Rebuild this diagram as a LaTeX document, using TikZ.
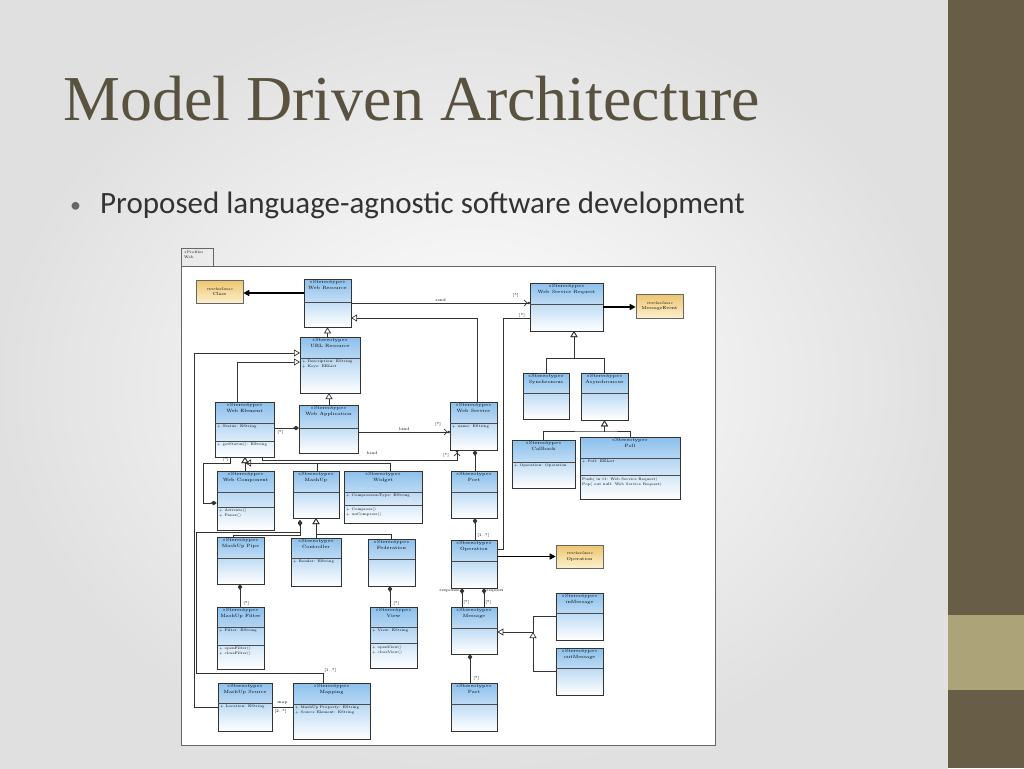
\documentclass[tikz,border=0pt]{standalone}
\usepackage{fontspec}
\newfontfamily\slidefont{Carlito}
\newfontfamily\headfont{Liberation Serif}
\usetikzlibrary{arrows.meta,fit,positioning,calc}
\definecolor{boxtop}{RGB}{140,192,236}
\definecolor{metatop}{RGB}{238,196,110}
\definecolor{metabot}{RGB}{252,240,205}
\definecolor{strip}{RGB}{104,93,70}
\definecolor{stripband}{RGB}{172,163,120}
\definecolor{headcol}{RGB}{88,82,62}
\tikzset{
    stbox/.style={rectangle,draw=black!80,line width=.6pt,inner sep=0pt,top color=boxtop,bottom color=white},
    mcbox/.style={rectangle,draw=black!60,line width=.6pt,inner sep=0pt,top color=metatop,bottom color=metabot},
    sttitle/.style={inner sep=0pt,align=center,font=\fontsize{4.6}{5.6}\selectfont},
    attr/.style={inner sep=0pt,anchor=north west,align=left,font=\fontsize{3.6}{4.6}\selectfont},
    lab/.style={inner sep=0pt,font=\fontsize{4}{5}\selectfont},
    sepline/.style={draw=black!70,line width=.5pt},
    conn/.style={draw=black!80,line width=.7pt},
    gen/.style={conn,-{Triangle[open,length=6pt,width=7pt]}},
    meta/.style={draw=black,line width=1.5pt,-{Triangle[length=6pt,width=6pt]}},
    comp/.style={conn,{Diamond[length=6pt,width=4.5pt]}-},
    navi/.style={conn,-{Straight Barb[length=3pt,width=6pt] Circle[length=2.5pt]}}
}
% stereotype class: name, x1, y1, x2, y2, header bottom, title
\newcommand\stclass[7]{%
  \node[stbox,fit={(#2,#3)(#4,#5)}] (#1) {};
  \node[sttitle,below=1.5pt of #1.north] (#1-t) {«Stereotype»\\#7};
  \draw[sepline] (#2,#6) -- (#4,#6);
}
% metaclass: name, x1, y1, x2, y2, title
\newcommand\mclass[6]{%
  \node[mcbox,fit={(#2,#3)(#4,#5)}] (#1) {};
  \node[sttitle,font=\fontsize{4.3}{5.6}\selectfont] at (#1.center) (#1-t) {\textit{«metaclass»}\\#6};
}
\begin{document}
\begin{tikzpicture}[x=1pt,y=-1pt]
\useasboundingbox (0,0) rectangle (1024,768);
% slide background
\shade[inner color=white,outer color=black!12] (0,0) rectangle (948,768);
\fill[strip] (948,0) rectangle (1024,768);
\fill[stripband] (948,615) rectangle (1024,690);
\node[anchor=base west,inner sep=0pt,text=headcol,font=\headfont\fontsize{64}{66}\selectfont] (title) at (63,120) {Model Driven Architecture};
\node[anchor=base west,inner sep=0pt,text=black!80,font=\slidefont\fontsize{31}{33}\selectfont] (bullet) at (100,213) {Proposed language-agnostic software development};
\node[anchor=base west,inner sep=0pt,text=black!60,font=\slidefont\fontsize{22}{24}\selectfont] at (70,212) {•};
% profile frame
\fill[white] (181,266) rectangle (715,745);
\draw[black!60,line width=.7pt] (181,248) rectangle (213,266);
\draw[black!60,line width=.7pt] (181,266) rectangle (715,745);
\node[attr,font=\fontsize{3.6}{4.4}\selectfont] (prof) at (184,251) {«Profile»\\Web};
% classes
\mclass{Cls}{196}{280}{243}{303}{Class}
\mclass{MsgEvt}{636}{294}{683}{318}{MessageEvent}
\mclass{OpMeta}{556}{545}{603}{568}{Operation}
\stclass{WR}{304}{279}{351}{327}{302}{Web Resource}
\stclass{WSR}{530}{283}{603}{331}{304}{Web Service Request}
\stclass{URL}{300}{337}{360}{393}{358}{URL Resource}
\node[attr] (URL-a) at (302,360) {+ Description: EString\\+ Keys: EEList};
\stclass{Sync}{523}{373}{569}{419}{393}{Synchronous}
\stclass{Async}{581}{373}{628}{420}{393}{Asynchronous}
\stclass{WE}{215}{402}{274}{457}{423}{Web Element}
\draw[sepline] (215,441) -- (274,441);
\node[attr] (WE-a) at (217,425) {+ Status: EString};
\node[attr] (WE-o) at (217,443) {+ getStatus(): EString};
\stclass{WA}{299}{405}{358}{453}{428}{Web Application}
\stclass{WS}{450}{402}{497}{450}{423}{Web Service}
\node[attr] (WS-a) at (452,425) {+ name: EString};
\stclass{CB}{512}{440}{575}{488}{462}{Callback}
\node[attr] (CB-a) at (514,464) {+ Operation: Operation};
\stclass{Poll}{580}{437}{680}{499}{458}{Poll}
\draw[sepline] (580,475) -- (680,475);
\node[attr] (Poll-a) at (582,460) {+ Poll: EEList};
\node[attr] (Poll-o) at (582,478) {Push( in t1: Web Service Request)\\Pop( out null: Web Service Request)};
\stclass{WC}{217}{471}{274}{530}{492}{Web Component}
\draw[sepline] (217,507) -- (274,507);
\node[attr] (WC-o) at (219,509) {+ Activate()\\+ Pause()};
\stclass{MU}{293}{471}{339}{518}{492}{MashUp}
\stclass{Wid}{344}{471}{422}{523}{492}{Widget}
\draw[sepline] (344,505) -- (422,505);
\node[attr] (Wid-a) at (346,494) {+ CompressionType: EString};
\node[attr] (Wid-o) at (346,508) {+ Compress()\\+ unCompress()};
\stclass{Port}{451}{471}{497}{518}{492}{Port}
\stclass{Pipe}{217}{537}{264}{584}{558}{MashUp Pipe}
\stclass{Ctrl}{291}{538}{341}{586}{558}{Controller}
\node[attr] (Ctrl-a) at (293,560) {+ Render: EString};
\stclass{Fed}{368}{539}{415}{586}{559}{Federation}
\stclass{Op}{451}{540}{497}{588}{561}{Operation}
\stclass{Filt}{217}{607}{264}{669}{627}{MashUp Filter}
\draw[sepline] (217,645) -- (264,645);
\node[attr] (Filt-a) at (219,629) {+ Filter: EString};
\node[attr] (Filt-o) at (219,647) {+ openFilter()\\+ closeFilter()};
\stclass{View}{370}{607}{417}{668}{627}{View}
\draw[sepline] (370,643) -- (417,643);
\node[attr] (View-a) at (372,629) {+ View: EString};
\node[attr] (View-o) at (372,646) {+ openView()\\+ closeView()};
\stclass{Msg}{451}{607}{497}{654}{628}{Message}
\stclass{InM}{556}{593}{603}{640}{613}{inMessage}
\stclass{OutM}{556}{648}{603}{695}{668}{outMessage}
\stclass{Src}{218}{683}{272}{731}{703}{MashUp Source}
\node[attr] (Src-a) at (220,705) {+ Location: EString};
\stclass{Map}{293}{683}{370}{739}{704}{Mapping}
\node[attr] (Map-a) at (295,706) {+ MashUp Property: EString\\+ Source Element: EString};
\stclass{Part}{451}{683}{497}{731}{704}{Part}
% metaclass extensions
\draw[meta] (WR.west |- 0,293) -- (Cls.east |- 0,293);
\draw[meta] (WSR.east) -- (WSR.east -| MsgEvt.west);
\draw[meta] (Op.east |- OpMeta.west) -- (OpMeta.west);
% generalizations
\draw[gen] (URL.north -| WR.south) -- (WR.south);
\draw[gen] (WS.north -| 477,0) |- (351,318);
\draw[gen] (Sync.north) |- (574,358) -| (574,331);
\draw[gen] (Async.north) |- (574,358) -| (574,331);
\draw[gen] (CB.north) |- (605,431) -| (Async.south);
\draw[gen] (Poll.north) |- (605,431) -| (Async.south);
\draw[gen] (WA.north -| 329,0) -- (329,393);
\draw[gen] (237,402) |- (300,362);
\draw[gen] (Src.west) -| (194,353) -- (300,353);
\draw[gen] (WC.north -| 245,0) -- (245,457);
\draw[gen] (MU.north -| 317,0) |- (245,463) -- (245,457);
\draw[gen] (Wid.north -| 390,0) |- (245,463);
\draw[gen] (Ctrl.north -| 316,0) -- (316,518);
\draw[gen] (Fed.north) |- (316,534) -- (316,518);
\draw[gen] (InM.west) -| (533,632) -- (Msg.east |- 0,632);
\draw[gen] (OutM.west) -| (533,632);
% compositions
\draw[comp] (299,428) -- (274,428) node[lab,pos=.75,below=2pt] {[*]};
\draw[comp] (WC.west |- 0,503) -| (203,463) -| (230,457) node[lab,pos=.8,left=1pt] {[*]};
\draw[comp] (475,450) -- (475,471);
\draw[comp] (475,518) -- (475,540) node[lab,pos=.8,right=2pt] {[1..*]};
\draw[comp] (240,584) -- (240,607) node[lab,pos=.85,right=3pt] {[*]};
\draw[comp] (390,586) -- (390,607) node[lab,pos=.85,right=3pt] {[*]};
\draw[comp] (300,520) |- (233,535) -- (233,537);
\draw[comp] (300,520) |- (196,532) |- (323,673) -- (323,683) node[lab,pos=0,above right=0pt and 1pt] {[1..*]};
\draw[comp] (462,588) -- (462,607) node[lab,pos=0,left=2pt,yshift=-3pt] {response} node[lab,pos=.75,right=1pt] {[*]};
\draw[comp] (484,588) -- (484,607) node[lab,pos=0,right=2pt,yshift=-3pt] {request} node[lab,pos=.75,right=1pt] {[*]};
\draw[comp] (470,654) -- (470,683) node[lab,pos=.85,right=3pt] {[*]};
% navigable associations
\draw[navi] (WR.east |- 0,303) -- (530,303) node[lab,pos=.5,above=1pt] {send} node[lab,pos=.92,above=5pt] {[*]};
\draw[navi] (WA.east |- 0,432) -- (450,432) node[lab,pos=.5,above=1pt] {bind} node[lab,pos=.87,above=5pt] {[*]};
\draw[navi] (262,457) |- (457,460) -- (457,450);
\node[lab] (bind2) at (372,453) {bind};
\node[lab] (bind2m) at (446,455) {[*]};
\draw[conn] (Op.east |- 0,549) -| (503,318) -- (530,318) node[lab,pos=.7,above=.5pt] {[*]};
\draw[conn] (Src.east |- 0,707) -- (Map.west |- 0,707) node[lab,pos=.5,above=2pt] {map} node[lab,pos=.4,below=2pt] {[2..*]};
\end{tikzpicture}
\end{document}
